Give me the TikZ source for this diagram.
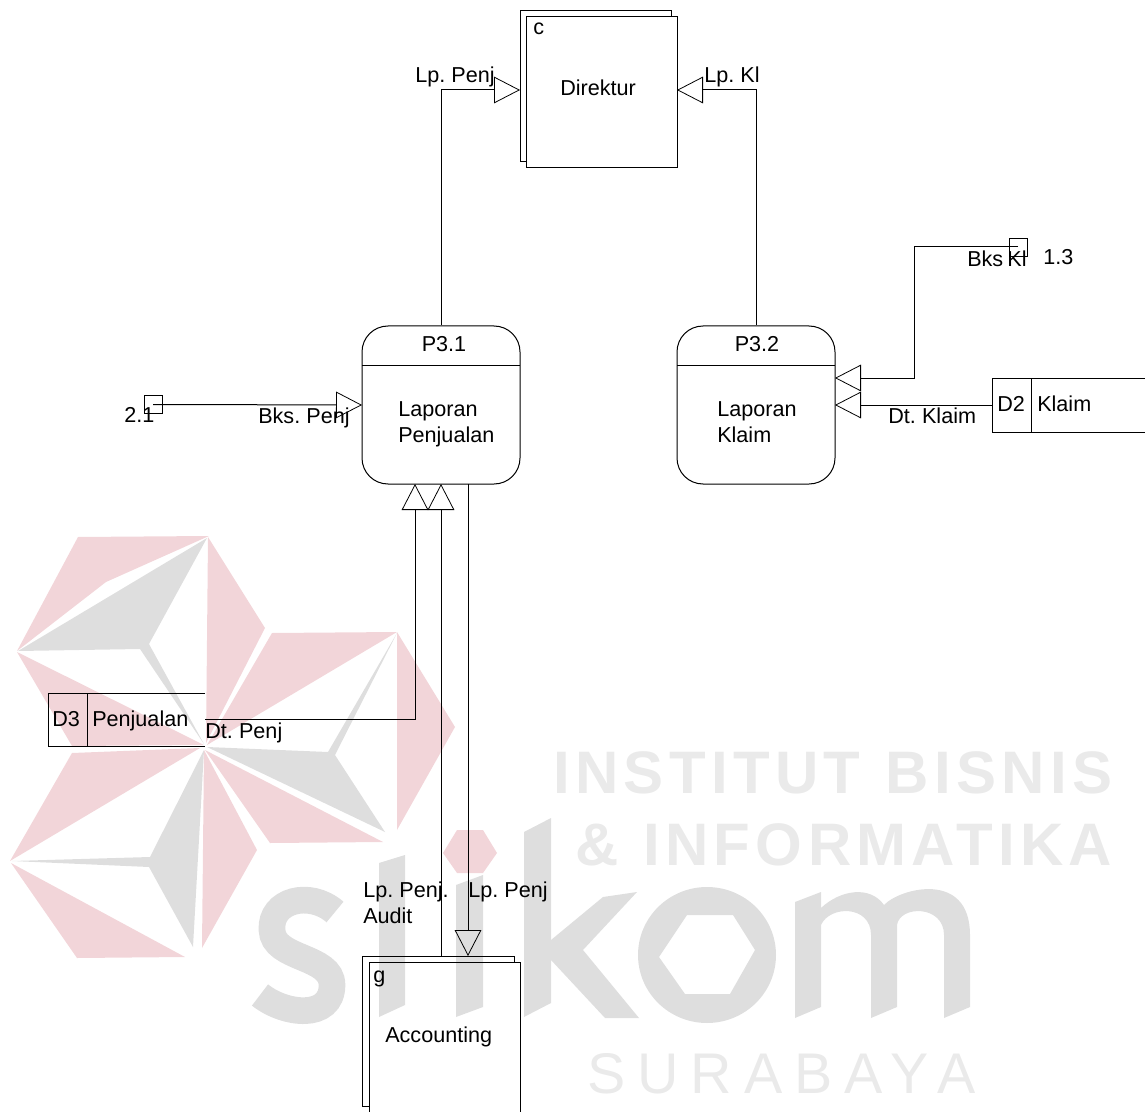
\documentclass[tikz,border=0pt]{standalone}
\usepackage{fontspec}
\setmainfont[WordSpace=0.7]{Liberation Sans}
\usetikzlibrary{arrows.meta}
\definecolor{wmpink}{HTML}{F2D5D9}
\definecolor{wmgray}{HTML}{DEDEDE}
\definecolor{wmtext}{HTML}{EAEAEA}
\tikzset{
  pinkpart/.style={fill=wmpink,draw=none},
  graypart/.style={fill=wmgray,draw=none},
  wmword/.style={anchor=base west,inner sep=0pt,text=wmtext},
  lbl/.style={anchor=base west,inner sep=0pt,font=\fontsize{16.2}{19.5}\selectfont},
  lblc/.style={anchor=base,inner sep=0pt,font=\fontsize{16.2}{19.5}\selectfont},
  procbox/.style={draw,line width=.75pt,rounded corners=19.5pt,minimum width=118.5pt,minimum height=118.5pt,inner sep=0pt},
  extbox/.style={draw,line width=.75pt,minimum width=113.25pt,minimum height=113.25pt,inner sep=0pt},
  smallbox/.style={draw,line width=.6pt,minimum width=13.5pt,minimum height=13.5pt,inner sep=0pt},
  part/.style={line width=.75pt},
  flow/.style={line width=.75pt,-{Triangle[open,length=19.5pt,width=20pt,line width=.6pt]}},
  plainflow/.style={line width=.75pt}
}
\begin{document}
\begin{tikzpicture}[x=.75pt,y=-.75pt]
\useasboundingbox (0,0) rectangle (1145,1112);
\clip (0,0) rectangle (1145,1112);
% watermark emblem
\path[pinkpart] (78,537)--(209,536)--(106,582)--(17,651)--cycle;
\path[graypart] (207,538)--(149,644)--(204,744)--(140,649)--(18,651)--cycle;
\path[pinkpart] (208,537)--(265,628)--(206,743)--cycle;
\path[pinkpart] (17,652)--(204,745)--(72,746)--cycle;
\path[pinkpart] (272,633)--(397,632)--(207,745)--cycle;
\path[graypart] (207,747)--(328,752)--(397,633)--(335,755)--(385,832)--cycle;
\path[pinkpart] (397,632)--(455,727)--(397,830)--cycle;
\path[pinkpart] (205,750)--(270,843)--(383,842)--cycle;
\path[pinkpart] (72,753)--(200,748)--(10,861)--cycle;
\path[graypart] (204,750)--(150,857)--(12,861)--(149,867)--(193,947)--cycle;
\path[pinkpart] (204,750)--(257,850)--(202,948)--cycle;
\path[pinkpart] (11,863)--(185,957)--(77,958)--cycle;
\path[pinkpart] (457,830)--(483,830)--(497,853)--(483,873)--(457,873)--(443,853)--cycle;
% watermark logotype
\draw[wmgray,line width=20pt,line cap=butt] (335,912) .. controls (310,890) and (270,900) .. (272,930) .. controls (273,960) and (332,955) .. (332,985) .. controls (332,1020) and (285,1015) .. (260,995);
\path[graypart] (379,863)--(405,855)--(405,1005)--(379,1017)--cycle;
\path[graypart] (456,885)--(483,875)--(483,1007)--(456,1017)--cycle;
\path[graypart] (524,832)--(551,818)--(551,1003)--(524,1017)--cycle;
\path[graypart] (551,940)--(603,897)--(637,892)--(583,950)--(639,1018)--(605,1018)--(551,960)--cycle;
\path[graypart,even odd rule] (707,955) ellipse [x radius=69,y radius=68]
  (687,915)--(733,915)--(755,950)--(730,994)--(685,994)--(659,957)--cycle;
\path[graypart] (795,902)--(821,892)--(821,908) .. controls (840,890) and (870,885) .. (884,905) .. controls (900,888) and (970,870) .. (970,935)
  --(970,1007)--(944,1018)--(944,935) .. controls (944,905) and (900,905) .. (897,925)
  --(897,1007)--(871,1018)--(871,935) .. controls (871,905) and (830,905) .. (821,925)
  --(821,1007)--(795,1018)--cycle;
\node[wmword,font=\fontsize{45}{50}\selectfont\bfseries\addfontfeature{LetterSpace=8.9}] (wm1) at (553,793) {INSTITUT \kern7pt BISNIS};
\node[wmword,font=\fontsize{45}{50}\selectfont\bfseries\addfontfeature{LetterSpace=8.9}] (wm2) at (575,865) {\& \kern7pt INFORMATIKA};
\node[wmword,font=\fontsize{43}{48}\selectfont\addfontfeature{LetterSpace=21}] (wm3) at (587,1093) {SURABAYA};
% Direktur
\draw[part] (526,162)--(520,162)--(520,11)--(671,11)--(671,17);
\node[extbox] (dir) at (601.5,92.5) {};
\node[lbl] (dirc) at (533,35) {c};
\node[lbl] (dirt) at (560,96) {Direktur};
\coordinate (dirL) at (520,90);
\coordinate (dirR) at (677,90);
% Processes
\node[procbox] (p31) at (441,405) {};
\draw[part] (362,365)--(520,365);
\node[lblc] (p31id) at (444,352) {P3.1};
\node[lbl] (p31a) at (398,416) {Laporan};
\node[lbl] (p31b) at (398,442) {Penjualan};
\node[procbox] (p32) at (756,405) {};
\draw[part] (677,365)--(835,365);
\node[lblc] (p32id) at (757,352) {P3.2};
\node[lbl] (p32a) at (717,416) {Laporan};
\node[lbl] (p32b) at (717,442) {Klaim};
% Off-page refs
\node[smallbox] (ref21) at (153,404.5) {};
\node[lbl] (ref21t) at (124,422) {2.1};
\node[smallbox] (ref13) at (1018,247) {};
\node[lbl] (ref13t) at (1043,265) {1.3};
% Stores
\draw[part] (205,693)--(48,693)--(48,746)--(205,746);
\draw[part] (87,693)--(87,746);
\node[lbl] (d3a) at (52,726) {D3};
\node[lbl] (d3b) at (92,726) {Penjualan};
\coordinate (d3e) at (205,719);
\draw[part] (1150,378)--(992,378)--(992,432)--(1150,432);
\draw[part] (1031,378)--(1031,432);
\node[lbl] (d2a) at (997,411) {D2};
\node[lbl] (d2b) at (1037,411) {Klaim};
\coordinate (d2w) at (992,405);
% Accounting
\draw[part] (369,1106)--(362,1106)--(362,956)--(514,956)--(514,962);
\draw[part] (369,1120)--(369,962)--(520,962)--(520,1120);
\node[lbl] (acg) at (373,982) {g};
\node[lbl] (act) at (385,1042) {Accounting};
\coordinate (acTopA) at (441,956);
\coordinate (acTopB) at (468,956);
% Connectors
\coordinate (p31in1) at (415,484);
\coordinate (p31in2) at (441,484);
\coordinate (p31out) at (468,484);
\coordinate (p32in1) at (835,378);
\coordinate (p32in2) at (835,405);
\coordinate (p31w) at (362,405);
\coordinate (c13) at (914,247);
\draw[flow] (p31.north) |- (dirL);
\draw[flow] (p32.north) |- (dirR);
\draw[flow] (ref21.center) -- (p31w);
\draw[flow] (ref13.center) -- (c13) |- (p32in1);
\draw[flow] (d2w) -- (p32in2);
\draw[flow] (d3e) -| (p31in1);
\draw[flow] (acTopA) -- (p31in2);
\draw[flow] (p31out) -- (acTopB);
% Flow labels
\node[lbl] (l1) at (415,83) {Lp. Penj};
\node[lbl] (l2) at (704,83) {Lp. Kl};
\node[lbl] (l3) at (258,423) {Bks. Penj};
\node[lbl] (l4) at (967,267) {Bks Kl};
\node[lbl] (l5) at (888,423) {Dt. Klaim};
\node[lbl] (l6) at (205,738) {Dt. Penj};
\node[lbl] (l7) at (363,897) {Lp. Penj.};
\node[lbl] (l7b) at (363,923) {Audit};
\node[lbl] (l8) at (468,897) {Lp. Penj};
\end{tikzpicture}
\end{document}
